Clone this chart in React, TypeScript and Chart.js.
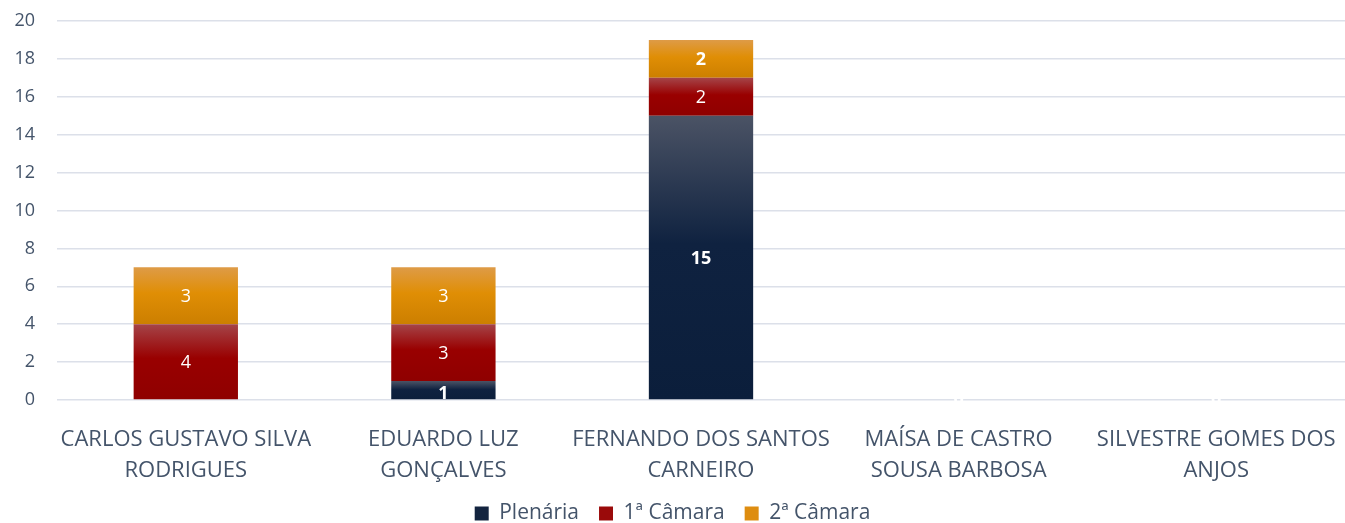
import React, { useEffect, useRef } from "react";
import { Chart, registerables } from "chart.js";

Chart.register(...registerables);

const categories: string[][] = [
  ["CARLOS GUSTAVO SILVA", "RODRIGUES"],
  ["EDUARDO LUZ", "GONÇALVES"],
  ["FERNANDO DOS SANTOS", "CARNEIRO"],
  ["MAÍSA DE CASTRO", "SOUSA BARBOSA"],
  ["SILVESTRE GOMES DOS", "ANJOS"],
];
const plenaria = [0, 1, 15, 0, 0];
const camara1 = [4, 3, 2, 0, 0];
const camara2 = [3, 3, 2, 0, 0];
const seriesNames = ["Plenária", "1ª Câmara", "2ª Câmara"];

const TEXT = "#44546a";
const FONT = "'Open Sans', sans-serif";

const palettes = [
  ["#4b5365", "#0f2240", "#0b1e3b"],
  ["#a54448", "#990000", "#8f0000"],
  ["#de9b47", "#e08e05", "#cc7f00"],
];
const legendColors = ["#13243f", "#9a0a0a", "#de8d10"];

const allSeries = [plenaria, camara1, camara2];

function makeBg(dsIndex: number) {
  return (ctx: any) => {
    const chart = ctx.chart;
    const y = chart.scales?.y;
    if (!y || ctx.type !== "data") return palettes[dsIndex][1];
    const i = ctx.dataIndex;
    let base = 0;
    for (let d = 0; d < dsIndex; d++) base += allSeries[d][i];
    const v = allSeries[dsIndex][i];
    const top = y.getPixelForValue(base + v);
    const bot = y.getPixelForValue(base);
    if (!isFinite(top) || !isFinite(bot) || top === bot) return palettes[dsIndex][1];
    const g = chart.ctx.createLinearGradient(0, top, 0, bot);
    const p = palettes[dsIndex];
    g.addColorStop(0, p[0]);
    g.addColorStop(0.45, p[1]);
    g.addColorStop(1, p[2]);
    return g;
  };
}

const labelPlugin = {
  id: "barLabels",
  afterDatasetsDraw(chart: any) {
    const ctx = chart.ctx;
    ctx.save();
    ctx.fillStyle = "#ffffff";
    ctx.textAlign = "center";
    ctx.textBaseline = "middle";
    chart.data.datasets.forEach((ds: any, di: number) => {
      const meta = chart.getDatasetMeta(di);
      meta.data.forEach((bar: any, i: number) => {
        const v = ds.data[i];
        const total = allSeries.reduce((s, arr) => s + arr[i], 0);
        if (v === 0 && (di !== 0 || total !== 0)) return;
        const bold = di === 0 || (di === 2 && i === 2);
        ctx.font = `${bold ? "bold " : ""}18px ${FONT}`;
        const cy = (bar.y + bar.base) / 2;
        ctx.fillText(String(v), bar.x, v === 0 ? bar.base : cy + (v === 1 ? 4 : 1));
      });
    });
    ctx.restore();
  },
};

export default function App() {
  const ref = useRef<HTMLCanvasElement>(null);
  useEffect(() => {
    document.body.style.margin = "0";
    const chart = new Chart(ref.current!, {
      type: "bar",
      data: {
        labels: categories,
        datasets: allSeries.map((s, di) => ({
          label: seriesNames[di],
          data: s,
          backgroundColor: makeBg(di),
          borderWidth: 0,
          barPercentage: 0.405,
          categoryPercentage: 1,
        })),
      },
      options: {
        animation: false,
        responsive: true,
        maintainAspectRatio: false,
        layout: { padding: { top: 0, right: 0, left: 0, bottom: -11 } },
        scales: {
          x: {
            stacked: true,
            grid: { display: false },
            border: { display: false },
            ticks: {
              color: TEXT,
              font: { family: FONT, size: 22, lineHeight: 1.41 },
              maxRotation: 0,
              autoSkip: false,
              padding: 16,
            },
            afterFit: (s: any) => {
              s.height = 83;
              s.paddingLeft = 0;
              s.paddingRight = 0;
            },
          },
          y: {
            stacked: true,
            min: 0,
            max: 20,
            grid: { color: "#dce0e9", lineWidth: 1.5, drawTicks: false },
            border: { display: false },
            ticks: { stepSize: 2, color: TEXT, font: { family: FONT, size: 18 }, padding: 22 },
            afterFit: (s: any) => {
              s.width = 57;
              s.paddingTop = 21;
              s.paddingBottom = 0;
            },
          },
        },
        plugins: {
          legend: {
            position: "bottom",
            labels: {
              color: TEXT,
              font: { family: FONT, size: 21 },
              boxWidth: 14,
              boxHeight: 14,
              padding: 20,
              generateLabels: () =>
                seriesNames.map((n, i) => ({
                  text: n,
                  fillStyle: legendColors[i],
                  strokeStyle: legendColors[i],
                  lineWidth: 0,
                  hidden: false,
                  datasetIndex: i,
                  fontColor: TEXT,
                })),
            },
          },
          tooltip: { enabled: false },
        },
      },
      plugins: [labelPlugin],
    });
    return () => chart.destroy();
  }, []);
  return (
    <div style={{ width: 1345, height: 523, position: "relative" }}>
      <canvas ref={ref} />
    </div>
  );
}
